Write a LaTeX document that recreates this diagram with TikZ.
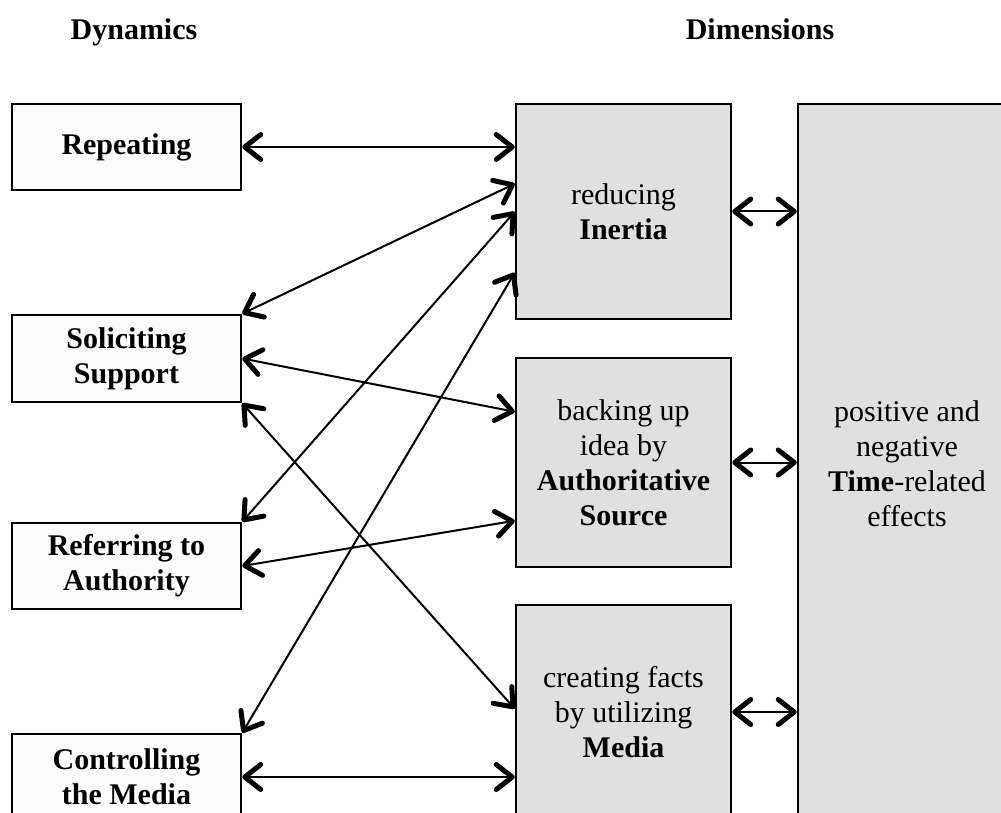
\documentclass[tikz,border=0pt]{standalone}
\usepackage{fontspec}
\setmainfont{Liberation Serif}
\usetikzlibrary{arrows.meta}
\definecolor{boxgrey}{HTML}{E0E0E0}
\definecolor{paleface}{HTML}{FCFCFC}
\begin{document}
\begin{tikzpicture}[x=1pt,y=-1pt,
  every node/.style={font=\fontsize{30}{35}\selectfont, align=center, inner sep=0pt},
  heading/.style={font=\bfseries\fontsize{30}{35}\selectfont, anchor=base},
  dyn/.style={draw, line width=2.5pt, fill=paleface, minimum width=229pt,
    minimum height=86pt, font=\bfseries\fontsize{30}{35}\selectfont},
  dim/.style={draw, line width=2.5pt, fill=boxgrey, minimum width=215pt},
  barb/.tip={Straight Barb[length=16pt, width=25pt, line width=5pt, round]},
  link/.style={line width=2pt, barb-barb}]
\useasboundingbox (0,0) rectangle (1001,813);
\clip (0,0) rectangle (1001,813);

% column headings
\node[heading] (tdyn) at (134,40) {Dynamics};
\node[heading] (tdim) at (760,40) {Dimensions};

% dynamics (left column)
\node[dyn] (rep) at (126.5,147) {Repeating};
\node[dyn, minimum height=87pt] (sol) at (126.5,358.5) {Soliciting\\Support};
\node[dyn] (ref) at (126.5,566) {Referring to\\Authority};
\node[dyn] (con) at (126.5,777) {Controlling\\the Media};

% dimensions (middle column)
\node[dim, minimum height=215pt] (inert) at (623.5,211.5) {reducing\\\textbf{Inertia}};
\node[dim, minimum height=209pt] (auth) at (623.5,462.5)
  {backing up\\idea by\\\textbf{Authoritative}\\\textbf{Source}};
\node[dim, minimum height=214pt] (media) at (623.5,712)
  {creating facts\\by utilizing\\\textbf{Media}};

% effects (right column)
\node[dim, minimum width=218pt, minimum height=720pt] (time) at (907,464)
  {positive and\\negative\\\textbf{Time}-related\\effects};

% links between dynamics and dimensions
\draw[link] (rep.east) -- (rep.east -| inert.west);
\draw[link] (sol.north east) -- ([yshift=-81pt]inert.north west);
\draw[link] (sol.east) -- ([yshift=-55pt]auth.north west);
\draw[link] (sol.south east) -- ([yshift=-105pt]media.north west);
\draw[link] (ref.north east) -- ([yshift=-109pt]inert.north west);
\draw[link] (con.north east) -- ([yshift=-170pt]inert.north west);
\draw[link] (ref.east) -- ([yshift=-164pt]auth.north west);
\draw[link] (con.east) -- (con.east -| media.west);

% links between dimensions and effects
\draw[link] (inert.east) -- (inert.east -| time.west);
\draw[link] (auth.east) -- (auth.east -| time.west);
\draw[link] (media.east) -- (media.east -| time.west);
\end{tikzpicture}
\end{document}
